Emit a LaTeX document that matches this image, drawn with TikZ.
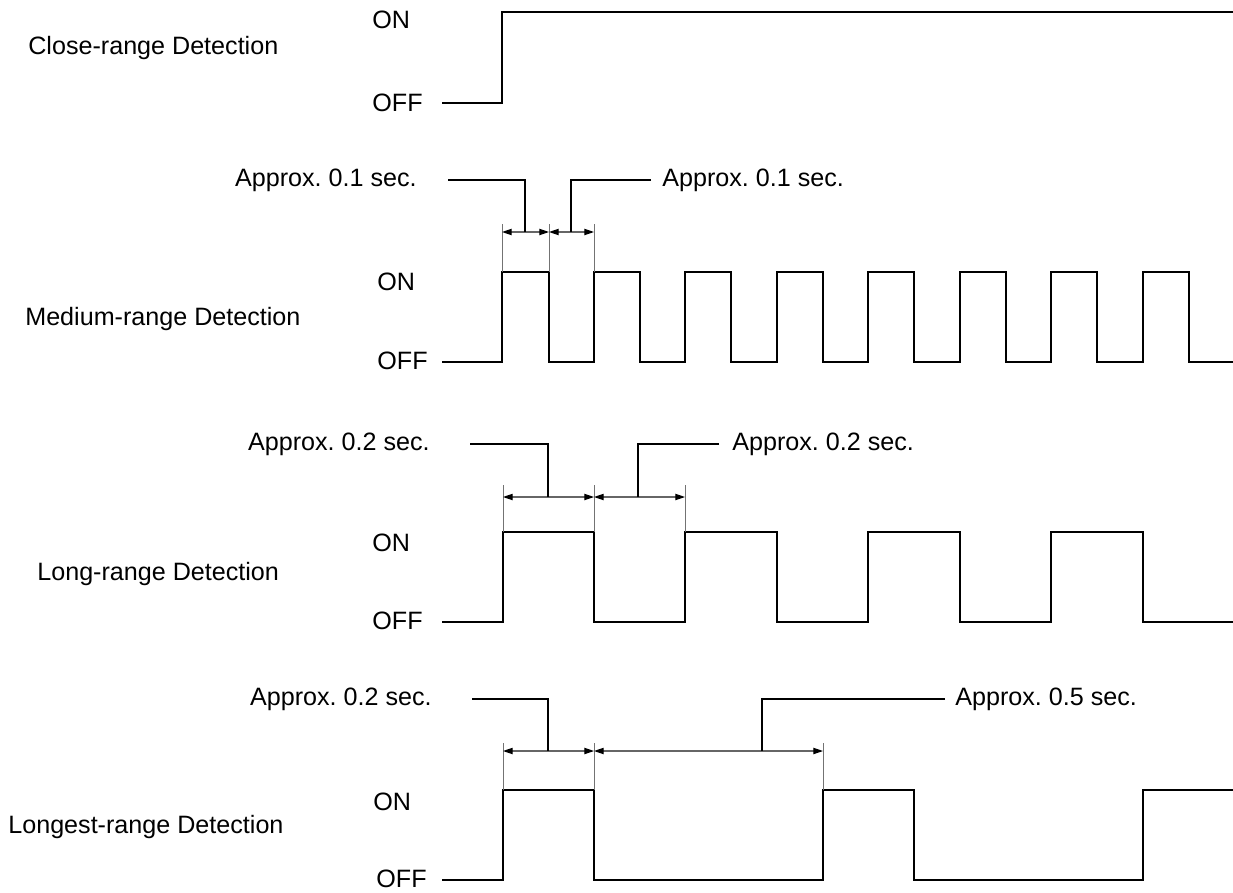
\documentclass[tikz,border=0pt]{standalone}
\usepackage{fontspec}
\setmainfont{Liberation Sans}
\usepackage{tikz}
\usetikzlibrary{arrows.meta,positioning}
\frenchspacing

\begin{document}
\begin{tikzpicture}[x=0.02cm,y=-0.02cm,font=\fontsize{14.3}{16}\selectfont,node distance=0.22cm,
  txt/.style={inner sep=0pt},
  sig/.style={line width=1.5pt,line join=miter},
  ext/.style={draw=black!55,line width=0.5pt},
  dim/.style={draw=black!60,line width=0.6pt,{Triangle[length=5.5pt,width=3.6pt,color=black]}-{Triangle[length=5.5pt,width=3.6pt,color=black]}},
  lead/.style={line width=0.6pt}]
\useasboundingbox (0,0) rectangle (1233,892);
\node[txt,anchor=west] (close) at (28,48) {Close-range Detection};
\node[txt,anchor=west] (on1) at (372,20) {ON};
\node[txt,anchor=west] (off1) at (372,103) {OFF};
\draw[sig] (442,103) -| (502,12) -- (1233,12);
\node[txt,anchor=west] (medium) at (25,319) {Medium-range Detection};
\node[txt,anchor=west] (on2) at (377,282) {ON};
\node[txt,anchor=west] (off2) at (377,361) {OFF};
\draw[sig] (442,362) -| (502,272) -| (549,362) -| (594,272) -| (640,362) -| (685,272) -| (731,362)
  -| (777,272) -| (823,362) -| (868,272) -| (914,362) -| (960,272) -| (1006,362) -| (1051,272)
  -| (1097,362) -| (1143,272) -| (1189,362) -- (1233,362);
\draw[ext] (502,272) -- (502,224) (549,272) -- (549,224) (594,272) -- (594,224);
\draw[dim] (502,232) -- (549,232);
\draw[dim] (549,232) -- (594,232);
\coordinate (m2a) at (525,232);
\coordinate (c2a) at (448,180);
\coordinate (m2b) at (571,232);
\coordinate (c2b) at (651,180);
\node[txt,left=0.62cm of c2a] (a2a) {Approx. 0.1 sec.};
\node[txt,right=of c2b] (a2b) {Approx. 0.1 sec.};
\draw[lead] (c2a) -| (m2a);
\draw[lead] (c2b) -| (m2b);
\node[txt,anchor=west] (long) at (37,574) {Long-range Detection};
\node[txt,anchor=west] (on3) at (372,543) {ON};
\node[txt,anchor=west] (off3) at (372,621) {OFF};
\draw[sig] (442,622) -| (503,532) -| (594,622) -| (685,532) -| (777,622) -| (868,532) -| (960,622)
  -| (1051,532) -| (1143,622) -- (1233,622);
\draw[ext] (503,532) -- (503,485) (594,532) -- (594,485) (685,532) -- (685,485);
\draw[dim] (503,497) -- (594,497);
\draw[dim] (594,497) -- (685,497);
\coordinate (m3a) at (548,497);
\coordinate (c3a) at (470,444);
\coordinate (m3b) at (638,497);
\coordinate (c3b) at (719,444);
\node[txt,left=0.8cm of c3a] (a3a) {Approx. 0.2 sec.};
\node[txt,right=0.26cm of c3b] (a3b) {Approx. 0.2 sec.};
\draw[lead] (c3a) -| (m3a);
\draw[lead] (c3b) -| (m3b);
\node[txt,anchor=west] (longest) at (8,827) {Longest-range Detection};
\node[txt,anchor=west] (on4) at (373,802) {ON};
\node[txt,anchor=west] (off4) at (376,879) {OFF};
\draw[sig] (442,880) -| (503,790) -| (594,880) -| (823,790) -| (914,880) -| (1143,790) -- (1233,790);
\draw[ext] (503,790) -- (503,743) (594,790) -- (594,743) (823,790) -- (823,743);
\draw[dim] (503,751) -- (594,751);
\draw[dim] (594,751) -- (823,751);
\coordinate (m4a) at (548,751);
\coordinate (c4a) at (472,699);
\coordinate (m4b) at (762,751);
\coordinate (c4b) at (945,699);
\node[txt,left=0.8cm of c4a] (a4a) {Approx. 0.2 sec.};
\node[txt,right=0.2cm of c4b] (a4b) {Approx. 0.5 sec.};
\draw[lead] (c4a) -| (m4a);
\draw[lead] (c4b) -| (m4b);
\end{tikzpicture}
\end{document}
